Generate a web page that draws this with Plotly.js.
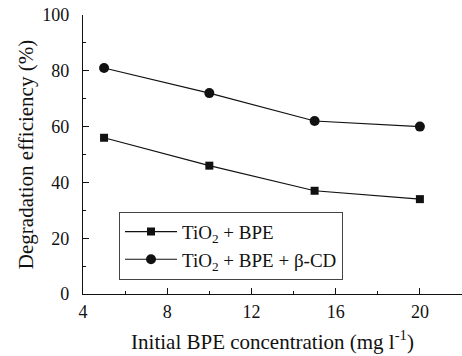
<!DOCTYPE html>
<html><head><meta charset="utf-8">
<script src="https://cdn.plot.ly/plotly-3.0.1.min.js"></script>
<style>html,body{margin:0;padding:0;background:#fff}#chart{width:462px;height:356px}</style>
</head><body><div id="chart"></div>
<script>
const concentration = [5, 10, 15, 20];
const tio2Bpe = [56, 46, 37, 34];
const tio2BpeCd = [81, 72, 62, 60];
const seriesNames = ["TiO<sub>2</sub> + BPE", "TiO<sub>2</sub> + BPE + β-CD"];
const xTicks = [4, 8, 12, 16, 20];
const yTicks = [0, 20, 40, 60, 80, 100];

const fam = "Liberation Serif, Times New Roman, serif";
const ink = "#111";
const traces = [
  {x: concentration, y: tio2Bpe, name: seriesNames[0], mode: "lines+markers",
   line: {color: ink, width: 1.2}, marker: {symbol: "square", size: 8, color: ink}},
  {x: concentration, y: tio2BpeCd, name: seriesNames[1], mode: "lines+markers",
   line: {color: ink, width: 1.2}, marker: {symbol: "circle", size: 10, color: ink}}
];
const layout = {
  width: 462, height: 356,
  margin: {l: 83, r: 0, t: 15, b: 62},
  paper_bgcolor: "#fff", plot_bgcolor: "#fff",
  font: {family: fam, color: ink, size: 20},
  showlegend: true,
  legend: {x: 0.095, y: 0.295, xanchor: "left", yanchor: "top", itemwidth: 52,
           bordercolor: "#444", borderwidth: 1, bgcolor: "#fff",
           font: {family: fam, size: 19, color: ink}, tracegroupgap: 0},
  xaxis: {range: [4, 22], tickvals: xTicks, ticks: "inside", ticklen: 6, tickcolor: ink,
          minor: {dtick: 2, ticks: "inside", ticklen: 3, tickcolor: ink},
          showline: true, linecolor: ink, linewidth: 1.2, showgrid: false, zeroline: false,
          ticklabelstandoff: 1,
          tickfont: {family: fam, size: 18, color: ink},
          title: {text: "Initial BPE concentration (mg l<sup>-1</sup>)", standoff: 13,
                  font: {family: fam, size: 21, color: ink}}},
  yaxis: {range: [0, 100], tickvals: yTicks, ticks: "inside", ticklen: 6, tickcolor: ink,
          minor: {dtick: 10, ticks: "inside", ticklen: 3, tickcolor: ink},
          showline: true, linecolor: ink, linewidth: 1.2, showgrid: false, zeroline: false,
          ticklabelstandoff: 9,
          tickfont: {family: fam, size: 18, color: ink},
          title: {text: "Degradation efficiency (%)", standoff: 2,
                  font: {family: fam, size: 21, color: ink}}}
};
Plotly.newPlot("chart", traces, layout, {displayModeBar: false, staticPlot: true});
</script></body></html>
